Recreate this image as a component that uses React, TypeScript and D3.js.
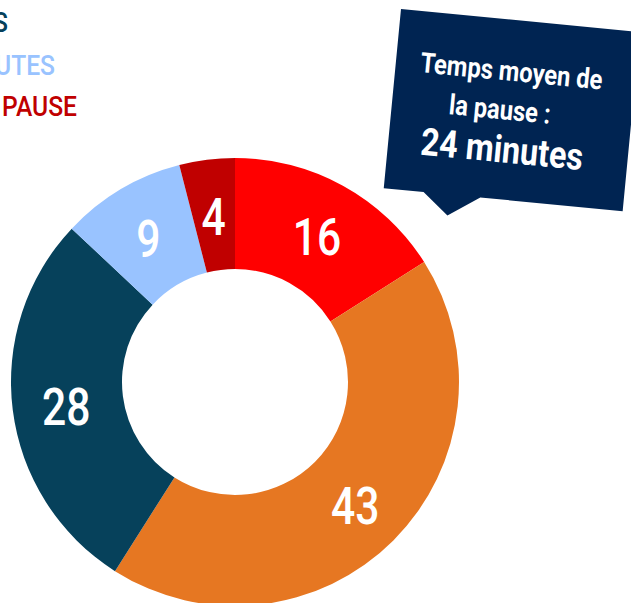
import React from "react";
import * as d3 from "d3";

const categories = ["Moins de 15 minutes", "De 15 à 30 minutes", "De 30 à 45 minutes", "Plus de 45 minutes", "Pas de pause"];
const values = [16, 43, 28, 9, 4];
const colors = ["#ff0000", "#e67722", "#06415b", "#99c3ff", "#c00000"];

const legendLabels = ["DE 30 À 45 MINUTES", "PLUS DE 45 MINUTES", "PAS DE PAUSE"];
const legendColors = ["#06415b", "#99c3ff", "#c00000"];

const calloutLines = ["Temps moyen de", "la pause :", "24 minutes"];

const W = 631;
const H = 603;
const cx = 235;
const cy = 382;
const outerR = 224;
const innerR = 113;

export default function App() {
  const pie = d3
    .pie<number>()
    .sort(null)
    .value((d) => d)
    .startAngle(0)
    .endAngle(2 * Math.PI);
  const arcs = pie(values);
  const arc = d3.arc<d3.PieArcDatum<number>>().innerRadius(innerR).outerRadius(outerR);
  const labelArc = d3.arc<d3.PieArcDatum<number>>().innerRadius(170).outerRadius(170);

  const font = "Roboto, 'DejaVu Sans', sans-serif";

  return (
    <svg
      width={W}
      height={H}
      style={{ position: "absolute", left: 0, top: 0, background: "#fff" }}
    >
      {/* legend (clipped at left) */}
      {legendLabels.map((t, i) => (
        <text
          key={t}
          transform={`translate(${[8, 55, 77][i]},${[32, 75, 116][i]}) scale(0.88,1)`}
          textAnchor="end"
          fontFamily={font}
          fontWeight={500}
          fontSize={28}
          fill={legendColors[i]}
        >
          {t}
        </text>
      ))}

      <g transform={`translate(${cx},${cy})`}>
        {arcs.map((a, i) => (
          <path key={categories[i]} d={arc(a) || ""} fill={colors[i]} />
        ))}
        {arcs.map((a, i) => {
          const [x, y] = labelArc.centroid(a);
          return (
            <text
              key={"l" + i}
              transform={`translate(${x},${y + 3}) scale(0.82,1)`}
              textAnchor="middle"
              dy="0.36em"
              fontFamily={font}
              fontWeight={500}
              fontSize={52}
              fill="#fff"
            >
              {values[i]}
            </text>
          );
        })}
      </g>

      {/* callout */}
      <g transform="translate(401,9) rotate(5.5)">
        <path d="M0,0 L240,0 L240,180 L97,180 L66,201 L40,180 L0,180 Z" fill="#002452" />
        <text
          transform="translate(116,61) scale(0.85,1)"
          textAnchor="middle"
          fontFamily={font}
          fontWeight="bold"
          fontSize={28}
          fill="#fff"
        >
          {calloutLines[0]}
        </text>
        <text
          transform="translate(108,100) scale(0.85,1)"
          textAnchor="middle"
          fontFamily={font}
          fontWeight="bold"
          fontSize={28}
          fill="#fff"
        >
          {calloutLines[1]}
        </text>
        <text
          transform="translate(114,143) scale(0.85,1)"
          textAnchor="middle"
          fontFamily={font}
          fontWeight="bold"
          fontSize={38}
          fill="#fff"
        >
          {calloutLines[2]}
        </text>
      </g>
    </svg>
  );
}
